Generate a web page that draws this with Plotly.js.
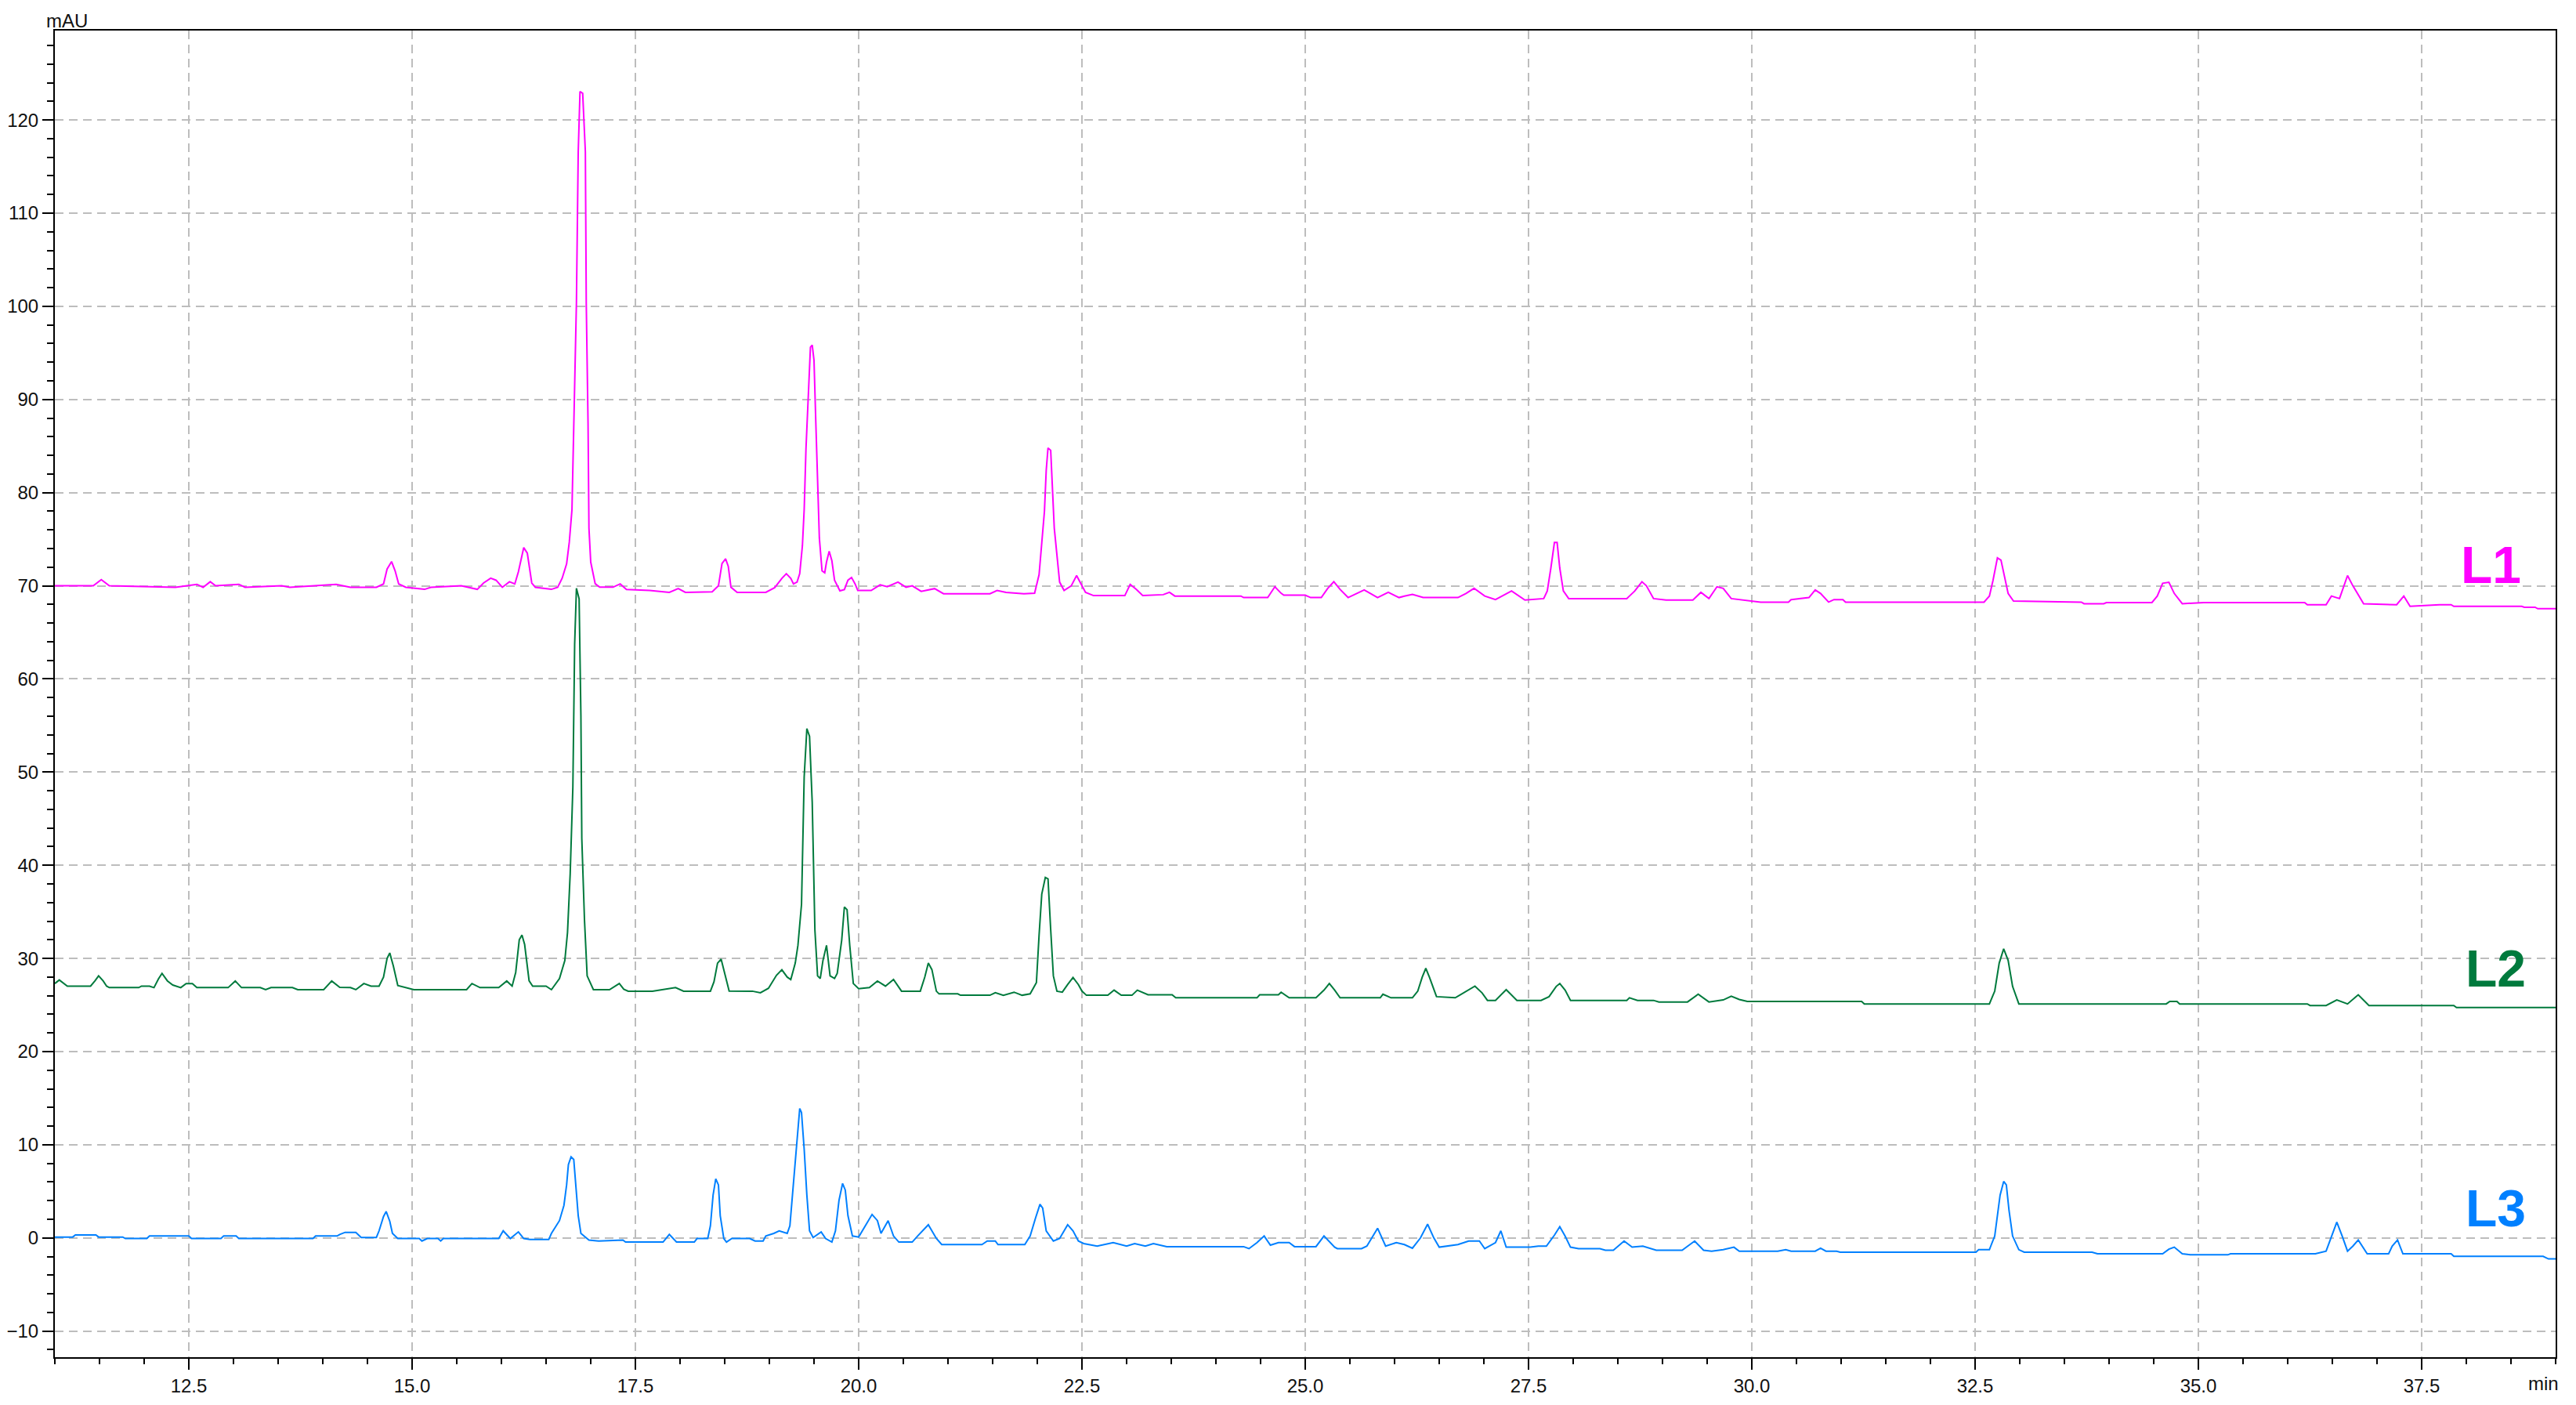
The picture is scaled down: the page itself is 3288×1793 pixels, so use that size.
<!DOCTYPE html>
<html>
<head>
<meta charset="utf-8">
<script src="https://cdn.plot.ly/plotly-3.0.1.min.js"></script>
<style>html,body{margin:0;padding:0;background:#fff;}#chart{width:3288px;height:1793px;}</style>
</head>
<body>
<div id="chart"></div>
<script>
// Chromatogram traces: [time (min), signal (mAU)]
const l1Points = [
[11.0,70.0],[11.43,70.0],[11.52,70.66],[11.61,70.0],[12.35,69.84],[12.59,70.16],[12.66,69.84],[12.74,70.44],[12.80,70.0],
[13.06,70.16],[13.13,69.84],[13.54,70.0],[13.63,69.84],[14.15,70.16],[14.31,69.84],[14.60,69.84],[14.68,70.2],[14.72,71.8],
[14.77,72.6],[14.81,71.6],[14.85,70.2],[14.93,69.84],[15.14,69.62],[15.21,69.84],[15.55,70.0],[15.73,69.62],[15.80,70.3],
[15.88,70.82],[15.94,70.6],[16.01,69.84],[16.09,70.44],[16.15,70.2],[16.19,71.5],[16.25,74.1],[16.29,73.5],[16.34,70.3],
[16.38,69.84],[16.56,69.62],[16.63,69.85],[16.68,70.81],[16.73,72.36],[16.76,74.68],[16.79,78.17],[16.81,87.84],[16.84,100.42],
[16.86,116.56],[16.88,123.06],[16.91,122.86],[16.94,116.56],[16.95,100.4],[16.97,87.45],[16.98,76.2],[17.00,72.55],[17.05,70.23],
[17.10,69.85],[17.25,69.85],[17.33,70.2],[17.40,69.6],[17.66,69.5],[17.88,69.3],[17.98,69.7],[18.06,69.3],[18.36,69.35],
[18.43,70.0],[18.47,72.4],[18.51,72.9],[18.54,72.1],[18.57,69.85],[18.64,69.3],[18.96,69.3],[19.06,69.8],[19.14,70.8],
[19.19,71.3],[19.24,70.8],[19.27,70.2],[19.31,70.4],[19.34,71.3],[19.37,74.3],[19.39,78.2],[19.41,84.7],[19.44,90.9],
[19.46,95.6],[19.48,95.85],[19.50,94.2],[19.52,87.6],[19.54,81.1],[19.56,75.1],[19.59,71.6],[19.62,71.4],[19.64,72.55],
[19.67,73.7],[19.70,72.7],[19.73,70.6],[19.79,69.46],[19.84,69.6],[19.88,70.6],[19.92,70.9],[19.96,70.2],[19.99,69.5],
[20.14,69.5],[20.24,70.1],[20.32,69.9],[20.44,70.4],[20.53,69.85],[20.60,70.0],[20.70,69.4],[20.85,69.7],[20.95,69.15],
[21.47,69.15],[21.55,69.5],[21.65,69.3],[21.85,69.15],[21.97,69.2],[22.02,71.2],[22.05,74.7],[22.08,78.0],[22.10,82.4],
[22.12,84.8],[22.15,84.55],[22.17,80.9],[22.19,76.2],[22.22,73.3],[22.25,70.4],[22.30,69.5],[22.38,70.0],[22.44,71.1],
[22.49,70.2],[22.54,69.3],[22.63,68.95],[22.98,68.95],[23.04,70.15],[23.11,69.6],[23.18,68.95],[23.41,69.05],[23.48,69.3],
[23.54,68.9],[24.28,68.9],[24.31,68.74],[24.58,68.74],[24.66,69.9],[24.73,69.2],[24.76,69.0],[25.0,69.0],[25.06,68.74],
[25.18,68.74],[25.25,69.7],[25.32,70.44],[25.39,69.62],[25.48,68.74],[25.57,69.18],[25.66,69.56],[25.73,69.18],[25.81,68.74],
[25.93,69.3],[26.05,68.74],[26.11,68.9],[26.20,69.07],[26.32,68.74],[26.71,68.74],[26.80,69.18],[26.89,69.73],[27.01,68.9],
[27.13,68.52],[27.31,69.45],[27.46,68.47],[27.67,68.63],[27.71,69.45],[27.75,71.9],[27.79,74.65],[27.82,74.65],[27.85,71.9],
[27.89,69.45],[27.95,68.63],[28.60,68.63],[28.69,69.45],[28.77,70.44],[28.82,70.0],[28.90,68.63],[29.04,68.47],[29.34,68.47],
[29.43,69.3],[29.52,68.63],[29.61,69.9],[29.68,69.73],[29.77,68.63],[30.10,68.25],[30.41,68.25],[30.44,68.52],[30.64,68.74],
[30.71,69.56],[30.77,69.18],[30.86,68.25],[30.92,68.52],[31.02,68.52],[31.05,68.25],[32.60,68.25],[32.66,68.9],[32.70,70.55],
[32.75,73.0],[32.79,72.75],[32.83,70.82],[32.87,69.18],[32.93,68.36],[33.69,68.25],[33.72,68.08],[33.94,68.08],[33.97,68.2],
[34.48,68.2],[34.54,68.9],[34.60,70.27],[34.67,70.38],[34.73,69.18],[34.82,68.08],[35.06,68.2],[36.19,68.2],[36.22,67.97],
[36.43,67.97],[36.49,68.9],[36.58,68.63],[36.62,69.73],[36.67,71.1],[36.73,70.0],[36.82,68.63],[36.85,68.08],[37.22,67.97],
[37.30,68.9],[37.37,67.8],[37.70,67.97],[37.83,67.97],[37.86,67.8],[38.62,67.8],[38.65,67.7],[38.77,67.7],[38.80,67.54],[39.0,67.54]
];

const l2Points = [
[11.0,27.31],[11.05,27.69],[11.14,27.03],[11.40,27.03],[11.45,27.6],[11.49,28.13],[11.54,27.6],[11.58,27.03],[11.61,26.87],
[11.94,26.87],[11.97,27.03],[12.06,27.03],[12.11,26.87],[12.16,27.8],[12.20,28.40],[12.26,27.6],[12.32,27.15],[12.41,26.87],
[12.47,27.3],[12.54,27.3],[12.59,26.87],[12.94,26.87],[13.02,27.58],[13.09,26.87],[13.30,26.87],[13.36,26.65],[13.42,26.87],
[13.66,26.87],[13.72,26.65],[14.01,26.65],[14.10,27.58],[14.19,26.9],[14.31,26.87],[14.37,26.65],[14.46,27.31],[14.54,27.03],
[14.63,27.03],[14.68,28.0],[14.72,30.0],[14.75,30.59],[14.79,29.2],[14.84,27.1],[15.02,26.65],[15.61,26.65],[15.67,27.31],
[15.76,26.87],[15.97,26.87],[16.06,27.58],[16.12,27.03],[16.16,28.5],[16.20,32.0],[16.23,32.51],[16.26,31.5],[16.31,27.6],
[16.35,27.03],[16.50,27.03],[16.56,26.65],[16.65,27.85],[16.71,29.77],[16.74,32.78],[16.77,39.07],[16.80,48.38],[16.82,63.7],
[16.84,69.73],[16.87,68.6],[16.89,56.04],[16.90,42.9],[16.93,34.15],[16.96,28.13],[17.03,26.65],[17.21,26.65],[17.27,27.0],
[17.32,27.31],[17.37,26.7],[17.42,26.49],[17.69,26.49],[17.95,26.87],[18.04,26.49],[18.34,26.49],[18.38,27.5],[18.42,29.5],
[18.46,29.93],[18.49,28.8],[18.55,26.5],[18.81,26.49],[18.90,26.32],[18.99,26.8],[19.08,28.2],[19.14,28.78],[19.20,28.0],
[19.24,27.74],[19.29,29.5],[19.32,31.41],[19.36,35.79],[19.39,49.5],[19.42,54.67],[19.45,53.85],[19.48,46.74],[19.51,33.05],
[19.54,28.13],[19.57,27.85],[19.60,29.77],[19.64,31.41],[19.68,28.13],[19.73,27.85],[19.76,28.4],[19.81,31.96],[19.84,35.52],
[19.87,35.24],[19.90,31.41],[19.94,27.31],[20.0,26.76],[20.12,26.87],[20.21,27.58],[20.30,27.03],[20.39,27.74],[20.48,26.49],
[20.69,26.49],[20.74,28.0],[20.78,29.5],[20.82,28.8],[20.87,26.49],[20.90,26.2],[21.11,26.2],[21.14,26.05],[21.47,26.05],
[21.53,26.32],[21.62,26.05],[21.74,26.38],[21.83,26.05],[21.92,26.2],[21.99,27.4],[22.02,32.5],[22.05,36.9],[22.09,38.7],
[22.12,38.55],[22.15,33.1],[22.18,28.13],[22.22,26.49],[22.28,26.38],[22.34,27.2],[22.40,27.96],[22.46,27.2],[22.50,26.5],
[22.55,26.05],[22.79,26.05],[22.86,26.6],[22.94,26.05],[23.06,26.05],[23.12,26.6],[23.24,26.1],[23.51,26.1],[23.55,25.78],
[24.46,25.78],[24.49,26.1],[24.70,26.1],[24.73,26.38],[24.82,25.78],[25.12,25.78],[25.21,26.6],[25.27,27.31],[25.33,26.6],
[25.39,25.78],[25.84,25.78],[25.87,26.16],[25.96,25.78],[26.20,25.78],[26.26,26.5],[26.31,28.0],[26.35,28.94],[26.39,28.0],
[26.47,25.9],[26.68,25.78],[26.77,26.32],[26.90,27.03],[26.98,26.3],[27.04,25.5],[27.13,25.5],[27.25,26.65],[27.37,25.5],
[27.64,25.5],[27.73,25.9],[27.81,27.0],[27.85,27.31],[27.91,26.6],[27.97,25.5],[28.60,25.5],[28.63,25.78],[28.72,25.5],
[28.90,25.5],[28.96,25.33],[29.28,25.33],[29.40,26.16],[29.52,25.33],[29.68,25.55],[29.77,25.94],[29.86,25.6],[29.95,25.39],
[31.23,25.39],[31.26,25.12],[32.66,25.12],[32.72,26.5],[32.77,29.5],[32.82,31.03],[32.87,29.8],[32.92,27.0],[32.99,25.12],
[34.64,25.12],[34.68,25.39],[34.76,25.39],[34.79,25.12],[36.22,25.12],[36.25,24.95],[36.43,24.95],[36.55,25.55],[36.67,25.12],
[36.79,26.1],[36.91,24.95],[37.86,24.95],[37.89,24.73],[39.0,24.73]
];

const l3Points = [
[11.0,0.1],[11.20,0.1],[11.23,0.32],[11.46,0.32],[11.49,0.1],[11.76,0.1],[11.79,-0.06],[12.03,-0.06],[12.06,0.21],
[12.50,0.21],[12.53,-0.06],[12.86,-0.06],[12.89,0.21],[13.03,0.21],[13.06,-0.06],[13.89,-0.06],[13.92,0.21],[14.16,0.21],
[14.19,0.38],[14.25,0.6],[14.37,0.6],[14.43,0.05],[14.60,0.05],[14.63,0.76],[14.68,2.3],[14.71,2.84],[14.75,1.8],
[14.78,0.49],[14.84,-0.06],[15.08,-0.06],[15.11,-0.33],[15.17,-0.06],[15.29,-0.06],[15.32,-0.33],[15.35,-0.06],[15.97,-0.06],
[16.02,0.76],[16.10,-0.06],[16.19,0.65],[16.25,-0.06],[16.32,-0.17],[16.53,-0.17],[16.56,0.49],[16.65,1.86],[16.70,3.5],
[16.73,5.69],[16.75,7.88],[16.78,8.7],[16.81,8.42],[16.83,5.69],[16.86,2.4],[16.89,0.49],[16.98,-0.22],[17.09,-0.33],
[17.36,-0.22],[17.39,-0.44],[17.81,-0.44],[17.88,0.38],[17.96,-0.44],[18.16,-0.44],[18.19,-0.06],[18.31,-0.06],[18.34,1.31],
[18.37,4.6],[18.40,6.35],[18.43,5.69],[18.45,2.4],[18.49,-0.06],[18.52,-0.44],[18.58,-0.06],[18.78,-0.06],[18.84,-0.33],
[18.93,-0.33],[18.96,0.21],[19.05,0.49],[19.11,0.76],[19.20,0.49],[19.23,1.31],[19.27,5.69],[19.31,10.6],[19.34,13.9],
[19.36,13.46],[19.39,9.52],[19.42,4.6],[19.45,0.76],[19.49,0.05],[19.58,0.65],[19.63,-0.06],[19.70,-0.44],[19.74,0.76],
[19.78,4.05],[19.82,5.85],[19.85,5.14],[19.88,2.4],[19.93,0.21],[20.0,0.1],[20.06,1.04],[20.15,2.52],[20.21,1.86],
[20.25,0.49],[20.33,1.86],[20.39,0.21],[20.45,-0.44],[20.60,-0.44],[20.66,0.21],[20.78,1.42],[20.87,-0.06],[20.93,-0.71],
[21.38,-0.71],[21.44,-0.33],[21.53,-0.33],[21.56,-0.71],[21.86,-0.71],[21.92,0.21],[21.98,2.13],[22.03,3.61],[22.06,3.22],
[22.10,0.76],[22.18,-0.33],[22.25,-0.06],[22.34,1.42],[22.40,0.76],[22.46,-0.33],[22.52,-0.6],[22.67,-0.88],[22.85,-0.5],
[23.0,-0.88],[23.09,-0.6],[23.21,-0.88],[23.30,-0.6],[23.45,-0.93],[24.31,-0.93],[24.37,-1.15],[24.46,-0.5],[24.54,0.21],
[24.61,-0.77],[24.70,-0.5],[24.82,-0.5],[24.88,-0.93],[25.12,-0.93],[25.21,0.21],[25.33,-0.99],[25.36,-1.15],[25.63,-1.15],
[25.69,-0.88],[25.81,1.04],[25.90,-0.88],[26.02,-0.5],[26.11,-0.71],[26.20,-1.1],[26.29,0.0],[26.37,1.48],[26.44,0.0],
[26.50,-0.99],[26.71,-0.71],[26.83,-0.33],[26.95,-0.33],[27.01,-1.15],[27.13,-0.5],[27.19,0.76],[27.25,-0.99],[27.52,-0.99],
[27.61,-0.88],[27.70,-0.88],[27.79,0.3],[27.85,1.2],[27.91,0.2],[27.97,-0.99],[28.06,-1.15],[28.30,-1.15],[28.36,-1.32],
[28.45,-1.32],[28.57,-0.33],[28.66,-0.99],[28.78,-0.88],[28.87,-1.15],[28.93,-1.32],[29.22,-1.32],[29.36,-0.33],[29.46,-1.32],
[29.55,-1.42],[29.68,-1.26],[29.80,-0.99],[29.86,-1.42],[30.29,-1.42],[30.38,-1.26],[30.44,-1.42],[30.71,-1.42],[30.77,-1.1],
[30.83,-1.42],[30.95,-1.42],[30.99,-1.53],[32.51,-1.53],[32.54,-1.26],[32.66,-1.26],[32.72,0.21],[32.78,4.6],[32.82,6.07],
[32.85,5.69],[32.88,2.95],[32.92,0.21],[32.99,-1.26],[33.05,-1.53],[33.81,-1.53],[33.87,-1.7],[34.60,-1.7],[34.67,-1.2],
[34.73,-0.99],[34.82,-1.7],[34.91,-1.81],[35.33,-1.81],[35.36,-1.7],[36.31,-1.7],[36.43,-1.42],[36.49,0.21],[36.55,1.7],
[36.61,0.21],[36.67,-1.42],[36.73,-0.88],[36.79,-0.22],[36.89,-1.7],[37.13,-1.7],[37.17,-0.88],[37.23,-0.22],[37.29,-1.7],
[37.83,-1.7],[37.86,-1.97],[38.86,-1.97],[38.92,-2.25],[39.0,-2.25]
];

const traceNames = ['L1', 'L2', 'L3'];
const traceColors = ['#FF00FF', '#007A3D', '#0080FF'];
const labelTime = [38.28, 38.33, 38.33];
const labelMau = [72.2, 28.9, 3.2];
const axisUnits = {x: 'min', y: 'mAU'};

const series = [l1Points, l2Points, l3Points];
const data = series.map((pts, i) => ({
  type: 'scatter',
  mode: 'lines',
  name: traceNames[i],
  x: pts.map(p => p[0]),
  y: pts.map(p => p[1]),
  line: {color: traceColors[i], width: 2},
  hoverinfo: 'skip'
}));

const FONT = 'Liberation Sans, Arial, Helvetica, sans-serif';
const gridCommon = {
  showgrid: true, gridcolor: '#BDBDBD', gridwidth: 2, griddash: '11px,7px',
  zeroline: false, showline: true, linecolor: '#000', linewidth: 2, mirror: true,
  ticks: 'outside', tickwidth: 2, tickcolor: '#000', ticklen: 14,
  tickfont: {family: FONT, size: 24, color: '#111'}
};

const annotations = [
  {xref: 'paper', yref: 'paper', x: 0.005, y: 1, xanchor: 'center', yanchor: 'bottom', yshift: -3,
   text: axisUnits.y, showarrow: false, font: {family: FONT, size: 24, color: '#111'}},
  {xref: 'paper', yref: 'paper', x: 1.002, y: 0, xanchor: 'right', yanchor: 'top', yshift: -18,
   text: axisUnits.x, showarrow: false, font: {family: FONT, size: 24, color: '#111'}}
];
traceNames.forEach((n, i) => annotations.push({
  xref: 'x', yref: 'y', x: labelTime[i], y: labelMau[i], xanchor: 'center', yanchor: 'middle',
  text: '<b>' + n + '</b>', showarrow: false,
  font: {family: FONT, size: 66, color: traceColors[i]}
}));

const layout = {
  width: 3288, height: 1793,
  margin: {l: 70, r: 26, t: 39, b: 61, pad: 0},
  paper_bgcolor: '#fff', plot_bgcolor: '#fff',
  showlegend: false,
  font: {family: FONT, size: 24, color: '#111'},
  xaxis: Object.assign({}, gridCommon, {
    range: [11, 39], tick0: 0, dtick: 2.5, tickformat: '.1f',
    minor: {dtick: 0.5, tick0: 0, ticks: 'outside', ticklen: 7, tickwidth: 2, tickcolor: '#000', showgrid: false}
  }),
  yaxis: Object.assign({}, gridCommon, {
    range: [-12.8, 129.6], tick0: 0, dtick: 10,
    minor: {dtick: 2, tick0: 0, ticks: 'outside', ticklen: 8, tickwidth: 2, tickcolor: '#000', showgrid: false}
  }),
  annotations: annotations
};

Plotly.newPlot('chart', data, layout, {staticPlot: true, displayModeBar: false});
</script>
</body>
</html>
